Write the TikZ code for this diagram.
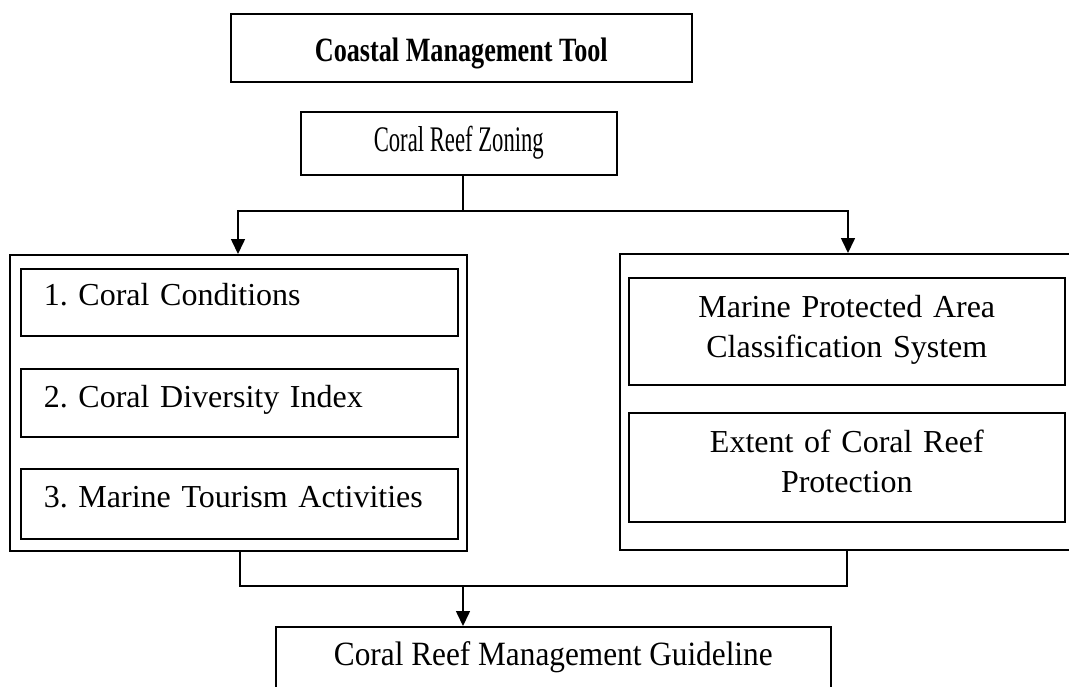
\documentclass[tikz,border=0pt]{standalone}
\usepackage{fontspec}
\setmainfont{Liberation Serif}
\newfontfamily\condfont[FakeStretch=0.63]{Liberation Serif}
\newfontfamily\topfont[FakeStretch=0.77]{Liberation Serif}
\newfontfamily\botfont[FakeStretch=0.92]{Liberation Serif}
\usetikzlibrary{arrows.meta}
\begin{document}
\begin{tikzpicture}[x=1pt,y=-1pt,
  box/.style={draw, line width=1.6pt, inner sep=0pt, anchor=north west,
    font=\fontsize{34}{40}\selectfont\frenchspacing},
  inbox/.style={box, font=\fontsize{32}{40}\selectfont\frenchspacing},
  leftbox/.style={inbox, minimum width=437pt, text width=437pt, align=left},
  rightbox/.style={inbox, minimum width=436pt, text width=436pt, align=center},
  conn/.style={line width=1.6pt},
  arr/.style={conn, -{Triangle[length=15pt,width=14pt]}}]
\useasboundingbox (0,0) rectangle (1069,686);
\clip (0,0) rectangle (1069,686);
% top
\node[box, minimum width=461pt, text height=48pt, text depth=20pt] (top) at (230,13)
  {\topfont\bfseries Coastal Management Tool};
\node[box, minimum width=316pt, text height=40pt, text depth=23pt,
  font=\fontsize{36}{40}\selectfont] (zone) at (300,111)
  {\condfont Coral Reef Zoning};
% left group
\node[box, minimum width=457pt, minimum height=296pt] (lout) at (9,254) {};
\node[leftbox, text height=37pt, text depth=30pt] (l1) at (20,268)
  {\hspace*{23pt}1. Coral Conditions};
\node[leftbox, text height=39pt, text depth=29pt] (l2) at (20,368)
  {\hspace*{23pt}2. Coral Diversity Index};
\node[leftbox, text height=39pt, text depth=31pt] (l3) at (20,468)
  {\hspace*{23pt}3. Marine Tourism Activities};
% right group
\node[box, minimum width=480pt, minimum height=296pt] (rout) at (619,253) {};
\node[rightbox, text height=40pt, text depth=67pt] (r1) at (628,277)
  {Marine Protected Area\\Classification System};
\node[rightbox, text height=40pt, text depth=69pt] (r2) at (628,412)
  {Extent of Coral Reef\\Protection};
% bottom
\node[box, minimum width=555pt, text height=39pt, text depth=60pt] (bot) at (275,626)
  {\botfont Coral Reef Management Guideline};
% connectors
\coordinate (ja) at (463,211);
\coordinate (jl) at (238,211);
\coordinate (jr) at (848,211);
\coordinate (kb) at (463,586);
\coordinate (kl) at (240,586);
\coordinate (kr) at (847,586);
\draw[conn] (ja |- zone.south) -- (ja);
\draw[arr] (ja) -- (jl) -- (jl |- lout.north);
\draw[arr] (ja) -- (jr) -- (jr |- rout.north);
\draw[conn] (kl |- lout.south) -- (kl) -- (kr) -- (kr |- rout.south);
\draw[arr] (kb) -- (kb |- bot.north);
\end{tikzpicture}
\end{document}
